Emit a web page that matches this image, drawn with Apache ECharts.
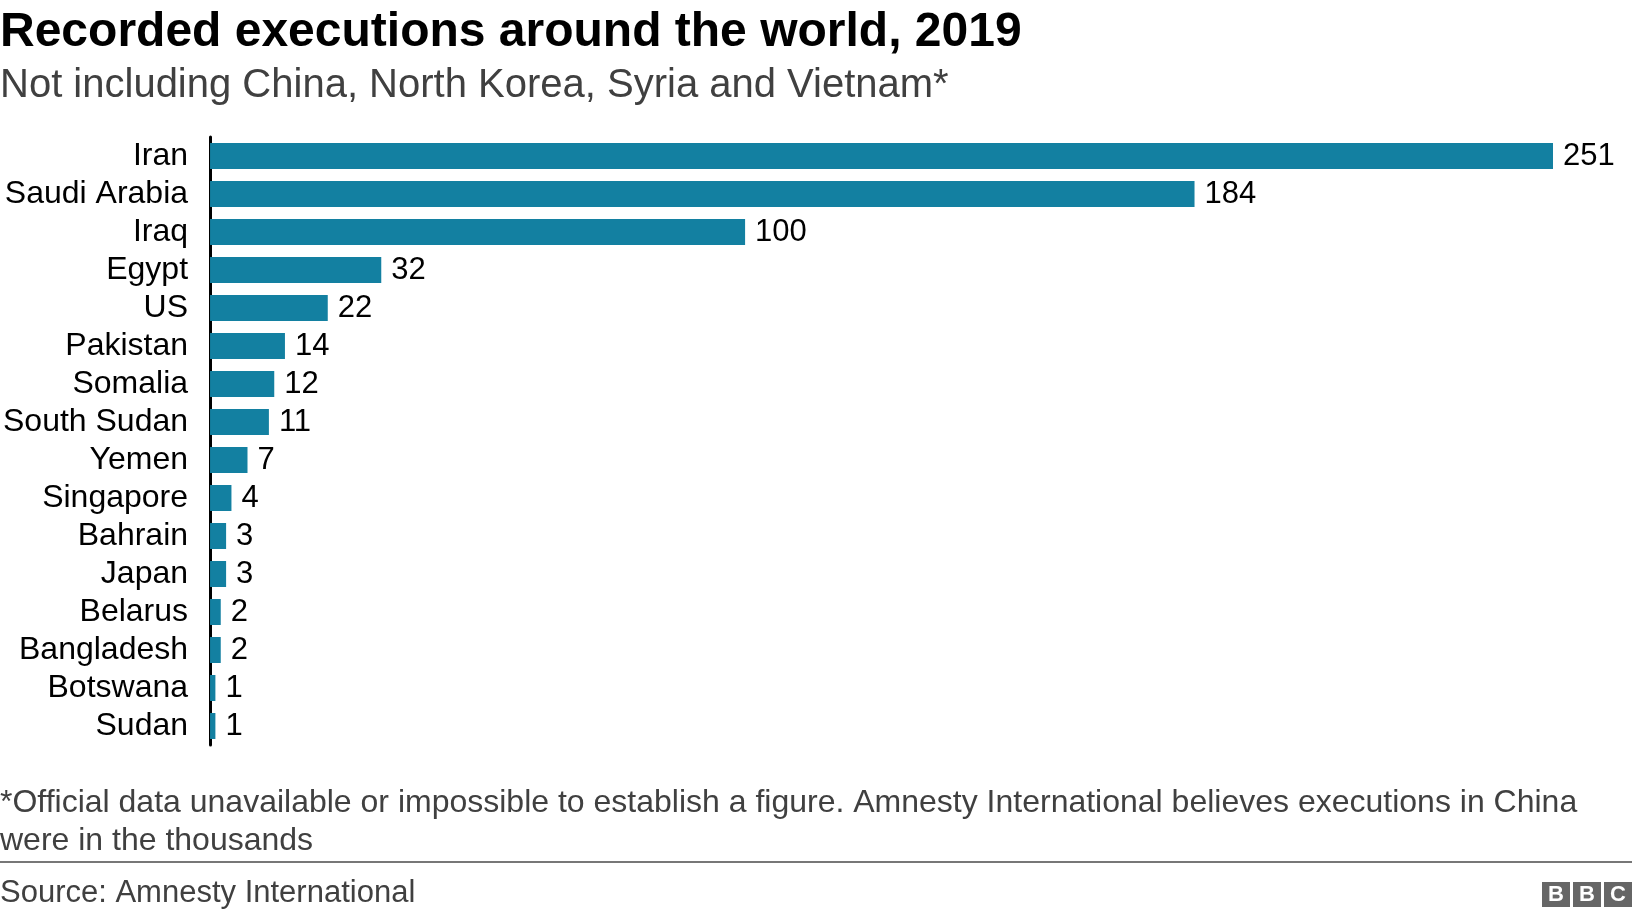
<!DOCTYPE html>
<html>
<head>
<meta charset="utf-8">
<title>Recorded executions</title>
<script src="https://cdn.jsdelivr.net/npm/echarts@6/dist/echarts.min.js"></script>
<style>
  html, body { margin: 0; padding: 0; background: #fff; }
  #chart { width: 1632px; height: 918px; }
</style>
</head>
<body>
<div id="chart"></div>
<script>
// data (top to bottom)
var countries = ['Iran', 'Saudi Arabia', 'Iraq', 'Egypt', 'US', 'Pakistan', 'Somalia', 'South Sudan',
                 'Yemen', 'Singapore', 'Bahrain', 'Japan', 'Belarus', 'Bangladesh', 'Botswana', 'Sudan'];
var executions = [251, 184, 100, 32, 22, 14, 12, 11, 7, 4, 3, 3, 2, 2, 1, 1];

var titleText = 'Recorded executions around the world, 2019';
var subtitleText = 'Not including China, North Korea, Syria and Vietnam*';
var noteLines = ['*Official data unavailable or impossible to establish a figure. Amnesty International believes executions in China',
                 'were in the thousands'];
var sourceText = 'Source: Amnesty International';

var FONT = '"Liberation Sans", Arial, Helvetica, sans-serif';
var chart = echarts.init(document.getElementById('chart'));

// BBC logo blocks
var logo = [];
['B', 'B', 'C'].forEach(function (ch, i) {
    var x0 = 1542 + i * 31;
    logo.push({ type: 'rect', shape: { x: x0, y: 882, width: 28, height: 25 }, style: { fill: '#666' } });
    logo.push({ type: 'text', x: x0 + 14, y: 895,
        style: { text: ch, font: 'bold 22px ' + FONT, fill: '#fff', align: 'center', verticalAlign: 'middle' } });
});

chart.setOption({
    animation: false,
    grid: { left: 206, right: 79, top: 137, bottom: 173 },
    xAxis: {
        type: 'value', min: 0, max: 251,
        show: false
    },
    yAxis: {
        type: 'category',
        inverse: true,
        data: countries,
        axisLine: { show: true, lineStyle: { color: '#000', width: 3 } },
        axisTick: { show: false },
        axisLabel: { interval: 0, margin: 22, color: '#000', fontSize: 32, fontFamily: FONT }
    },
    series: [{
        type: 'bar',
        data: executions,
        barCategoryGap: '31.6%',
        itemStyle: { color: '#1380A1' },
        label: {
            show: true, position: 'right', distance: 10,
            color: '#000', fontSize: 31, fontFamily: FONT
        }
    }],
    graphic: [
        { type: 'text', x: 0, y: 33,
          style: { text: titleText, font: 'bold 48px ' + FONT, fill: '#000', verticalAlign: 'middle' } },
        { type: 'text', x: 0, y: 86,
          style: { text: subtitleText, font: '40px ' + FONT, fill: '#404040', verticalAlign: 'middle' } },
        { type: 'text', x: 0, y: 803,
          style: { text: noteLines[0], font: '32px ' + FONT, fill: '#404040', verticalAlign: 'middle' } },
        { type: 'text', x: 0, y: 841,
          style: { text: noteLines[1], font: '32px ' + FONT, fill: '#404040', verticalAlign: 'middle' } },
        { type: 'line', shape: { x1: 0, y1: 862, x2: 1632, y2: 862 },
          style: { stroke: '#777', lineWidth: 2 } },
        { type: 'text', x: 0, y: 893,
          style: { text: sourceText, font: '31px ' + FONT, fill: '#404040', verticalAlign: 'middle' } }
    ].concat(logo)
});
</script>
</body>
</html>
